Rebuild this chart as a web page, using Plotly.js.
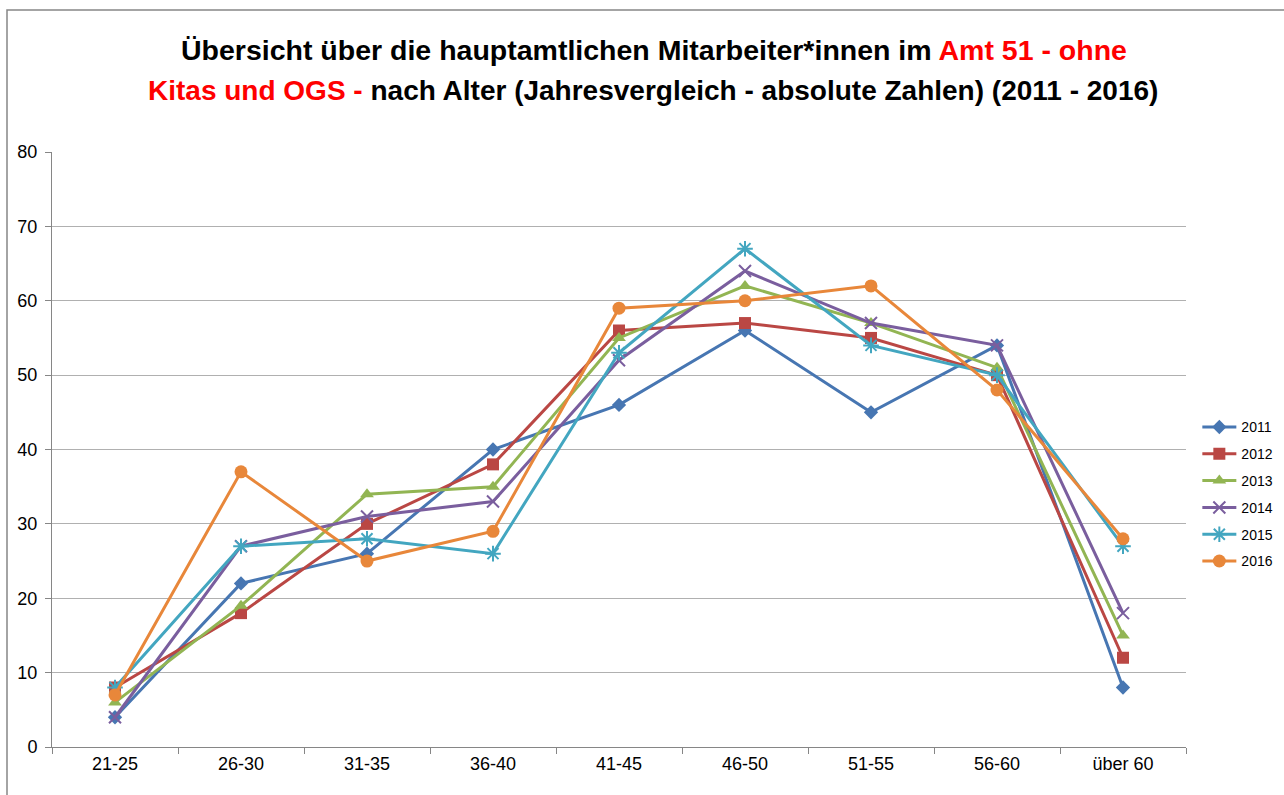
<!DOCTYPE html>
<html>
<head>
<meta charset="utf-8">
<script src="https://cdn.plot.ly/plotly-3.0.1.min.js"></script>
<style>html,body{margin:0;padding:0;background:#fff;}#chart{width:1284px;height:795px;}</style>
</head>
<body>
<div id="chart"></div>
<script>
const categories = ["21-25","26-30","31-35","36-40","41-45","46-50","51-55","56-60","über 60"];
const seriesNames = ["2011","2012","2013","2014","2015","2016"];
const v2011 = [4, 22, 26, 40, 46, 56, 45, 54, 8];
const v2012 = [8, 18, 30, 38, 56, 57, 55, 50, 12];
const v2013 = [6, 19, 34, 35, 55, 62, 57, 51, 15];
const v2014 = [4, 27, 31, 33, 52, 64, 57, 54, 18];
const v2015 = [8, 27, 28, 26, 53, 67, 54, 50, 27];
const v2016 = [7, 37, 25, 29, 59, 60, 62, 48, 28];
const seriesValues = [v2011, v2012, v2013, v2014, v2015, v2016];

const colors = ["#4776B2","#BA4744","#92B553","#7A5E9E","#43A6C0","#E8873A"];
const symbols = ["diamond","square","triangle-up","x-thin-open","asterisk-open","circle"];
const sizes = [11, 12, 12, 12, 13, 13];

const traces = seriesNames.map((n,i)=>({
  type:"scatter", mode:"lines+markers", name:n, legendgroup:"g"+i,
  x: categories, y: seriesValues[i],
  line:{color:colors[i], width:3},
  marker:{symbol:symbols[i], size:sizes[i], color:colors[i], line:{color:colors[i], width:(i===3||i===4)?2:0}}
}));

const layout = {
  width:1284, height:795,
  margin:{l:52, r:98, t:152, b:48, autoexpand:false},
  paper_bgcolor:"#fff", plot_bgcolor:"#fff",
  font:{family:"'Liberation Sans', Arial, sans-serif", color:"#000"},
  showlegend:true,
  legend:{x:1.01, y:0.564, xanchor:"left", yanchor:"top", font:{size:14, color:"#000"}, bgcolor:"rgba(0,0,0,0)", tracegroupgap:5.6, itemwidth:34},
  xaxis:{type:"category", range:[-0.5, 8.5], showgrid:false, showline:true, linecolor:"#868686", linewidth:1,
    ticks:"outside", tickson:"boundaries", ticklen:6, tickcolor:"#868686", tickfont:{size:18, color:"#000"}, zeroline:false, fixedrange:true},
  yaxis:{range:[0,80], dtick:10, showgrid:true, gridcolor:"#b0b0b0", gridwidth:1, showline:true, linecolor:"#868686",
    ticks:"outside", ticklen:6, tickcolor:"#868686", tickfont:{size:18, color:"#000"}, ticklabelstandoff:4, zeroline:false, fixedrange:true},
  shapes:[{type:"rect", xref:"paper", yref:"paper", x0:(7-52)/1134, x1:1.2, y0:-0.2, y1:(747-10)/595, line:{color:"#868686", width:1.5}, fillcolor:"rgba(0,0,0,0)", layer:"below"}],
  annotations:[
    {xref:"paper", yref:"paper", x:(654-52)/1134, y:(747-50)/595, xanchor:"center", yanchor:"middle", showarrow:false,
     text:"<b>Übersicht über die hauptamtlichen Mitarbeiter*innen im <span style='color:#FF0000'>Amt 51 - ohne</span></b>",
     font:{family:"'Liberation Sans', Arial, sans-serif", size:28.5, color:"#000"}},
    {xref:"paper", yref:"paper", x:(653-52)/1134, y:(747-91)/595, xanchor:"center", yanchor:"middle", showarrow:false,
     text:"<b><span style='color:#FF0000'>Kitas und OGS - </span>nach Alter (Jahresvergleich - absolute Zahlen) (2011 - 2016)</b>",
     font:{family:"'Liberation Sans', Arial, sans-serif", size:28, color:"#000"}}
  ]
};
Plotly.newPlot("chart", traces, layout, {displayModeBar:false, staticPlot:true});
</script>
</body>
</html>
